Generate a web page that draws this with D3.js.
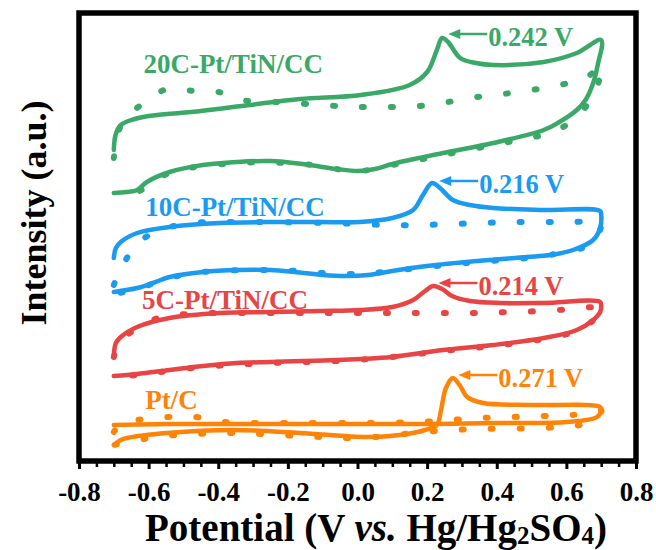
<!DOCTYPE html>
<html><head><meta charset="utf-8">
<script src="https://cdn.jsdelivr.net/npm/d3@7/dist/d3.min.js"></script>
<style>
body{margin:0;background:#fff;}
text{font-family:"Liberation Serif","Times New Roman",serif;font-weight:bold;}
</style>
</head><body>
<svg id="chart" width="656" height="550"></svg>
<script>
// ---------- data ----------
const xMajorTicks = [-0.8,-0.6,-0.4,-0.2,0.0,0.2,0.4,0.6,0.8];
const xTickLabels = ["-0.8","-0.6","-0.4","-0.2","0.0","0.2","0.4","0.6","0.8"];
const xMinorTicks = [-0.75,-0.7,-0.65,-0.55,-0.5,-0.45,-0.35,-0.3,-0.25,-0.15,-0.1,-0.05,0.05,0.1,0.15,0.25,0.3,0.35,0.45,0.5,0.55,0.65,0.7,0.75];
const seriesNames = ["20C-Pt/TiN/CC","10C-Pt/TiN/CC","5C-Pt/TiN/CC","Pt/C"];
const seriesColors = ["#3aa968","#1a9bf0","#e84444","#ff8306"];
const peakLabels = ["0.242 V","0.216 V","0.214 V","0.271 V"];
const peakPotentials = [0.242,0.216,0.214,0.271];
const arrowHeights = [427,280,178,86];

// potential (V), intensity (a.u.) along the full scan
const green_solid = [[-0.70,311],[-0.695,326],[-0.68,336],[-0.64,342],[-0.60,345],[-0.45,350],[-0.31,356],[-0.165,362],[0.01,366],[0.15,376],[0.20,389],[0.228,411],[0.243,423],[0.26,419],[0.295,403],[0.34,398],[0.39,396],[0.535,399],[0.63,408],[0.70,421],
  [0.69,396],[0.677,378],[0.655,361],[0.63,351],[0.58,339],[0.535,331],[0.39,318],[0.246,308],[0.10,297],[0.05,292],[0.0,290],[-0.06,292],[-0.157,297],[-0.25,300],[-0.346,299],[-0.444,296],[-0.54,289],[-0.605,279],[-0.633,271],[-0.665,269],[-0.70,268]];
const green_dotted = [[-0.70,303],[-0.685,331],[-0.66,346],[-0.63,354],[-0.547,372],[-0.467,370],[-0.40,369],[-0.315,360],[-0.228,359],[-0.144,357],[-0.058,355],[0.007,354],[0.093,354],[0.18,355],[0.26,359],[0.343,364],[0.418,367],[0.50,371],[0.582,376],[0.659,384],[0.70,395],
  [0.69,376],[0.674,364],[0.63,344],[0.562,329],[0.476,322],[0.39,316],[0.246,306],[0.10,296],[0.0,290],[-0.157,297],[-0.346,298],[-0.54,288],[-0.633,269],[-0.70,265]];
const blue_solid = [[-0.70,203],[-0.694,213],[-0.68,219],[-0.633,228],[-0.54,234],[-0.395,238],[-0.25,239],[-0.108,239],[0.007,239],[0.10,243],[0.16,251],[0.188,266],[0.214,278],[0.237,273],[0.274,261],[0.323,256],[0.39,253],[0.535,251],[0.697,250],
  [0.70,246],[0.697,233],[0.677,221],[0.619,211],[0.553,206],[0.487,204],[0.343,200],[0.20,195],[0.10,190],[0.03,186],[-0.03,185],[-0.10,186],[-0.18,189],[-0.25,191],[-0.346,191],[-0.444,189],[-0.54,184],[-0.588,178],[-0.633,173],[-0.70,169]];
const blue_dotted = [[-0.70,176],[-0.677,194],[-0.63,218],[-0.567,231],[-0.473,238],[-0.389,239],[-0.25,239],[-0.08,238],[0.093,236],[0.18,236],[0.266,237],[0.358,238],[0.44,239],[0.53,239],[0.616,239],[0.697,239],[0.70,236],
  [0.688,224],[0.668,216],[0.582,208],[0.487,203],[0.343,199],[0.20,194],[0.10,190],[0.0,187],[-0.10,188],[-0.174,190],[-0.25,191],[-0.444,189],[-0.54,183],[-0.633,172],[-0.70,167]];
const red_solid = [[-0.70,106],[-0.694,118],[-0.68,124],[-0.633,134],[-0.54,143],[-0.395,148],[-0.25,149],[-0.108,150],[0.007,151],[0.10,154],[0.16,161],[0.194,170],[0.217,175],[0.243,172],[0.272,165],[0.323,160],[0.409,158],[0.535,158],[0.697,159],
  [0.70,155],[0.697,149],[0.677,141],[0.63,131],[0.535,123],[0.39,116],[0.246,111],[0.10,104],[0.007,102],[-0.058,101],[-0.157,100],[-0.25,99],[-0.346,98],[-0.444,95],[-0.54,91],[-0.633,87],[-0.70,85]];
const red_dotted = [[-0.70,104],[-0.685,118],[-0.65,129],[-0.573,143],[-0.49,147],[-0.31,148],[-0.108,148],[0.093,148],[0.18,148],[0.266,148],[0.352,148],[0.44,149],[0.53,150],[0.616,152],[0.69,154],[0.70,153],
  [0.69,145],[0.668,138],[0.63,130],[0.535,122],[0.39,115],[0.246,110],[0.10,104],[-0.058,100],[-0.25,98],[-0.444,94],[-0.633,86],[-0.70,84]];
const orange_solid = [[-0.70,16],[-0.68,21],[-0.662,23],[-0.547,28],[-0.358,31],[-0.165,28],[0.027,24],[0.122,26],[0.194,31],[0.228,36],[0.24,51],[0.254,73],[0.274,83],[0.295,75],[0.315,64],[0.361,58],[0.504,56],[0.697,54],
  [0.70,51],[0.688,44],[0.602,39],[0.409,38],[0.217,37],[0.027,37],[-0.165,37],[-0.358,37],[-0.547,37],[-0.70,36]];
const orange_dotted = [[-0.70,29],[-0.68,37],[-0.633,41],[-0.547,44],[-0.461,44],[-0.381,39],[-0.194,38],[0.007,38],[0.18,39],[0.266,41],[0.352,43],[0.44,44],[0.53,45],[0.616,46],[0.70,51],
  [0.69,43],[0.64,36],[0.524,33],[0.352,32],[0.272,31],[0.188,29],[0.007,23],[-0.165,25],[-0.358,28],[-0.519,26],[-0.596,23],[-0.70,16]];

const solidCurves = [green_solid, blue_solid, red_solid, orange_solid];
const dottedCurves = [green_dotted, blue_dotted, red_dotted, orange_dotted];
// label anchors (V, a.u.)
const labelPos = [[-0.615,388],[-0.61,245],[-0.619,152],[-0.61,52]];

// ---------- chart ----------
const svg = d3.select("#chart");
const L=79, R=636, T=13, B=461;
const x = d3.scaleLinear().domain([-0.8,0.8]).range([L,R]);
const y = d3.scaleLinear().domain([0,448]).range([B,T]);
const line = d3.line().x(d=>x(d[0])).y(d=>y(d[1])).curve(d3.curveCatmullRom.alpha(0.5));

const g = svg.append("g");
dottedCurves.forEach((c,i)=>{
  g.append("path").attr("d",line(c)).attr("fill","none").attr("stroke",seriesColors[i])
   .attr("stroke-width",6).attr("stroke-linecap","round").attr("stroke-dasharray","2 27");
});
solidCurves.forEach((c,i)=>{
  g.append("path").attr("d",line(c)).attr("fill","none").attr("stroke",seriesColors[i])
   .attr("stroke-width",4.5).attr("stroke-linejoin","round").attr("stroke-linecap","round");
});

// series labels
seriesNames.forEach((n,i)=>{
  svg.append("text").attr("x",x(labelPos[i][0])).attr("y",y(labelPos[i][1]))
    .attr("fill",seriesColors[i]).attr("font-size",27).text(n);
});

// peak annotations
peakLabels.forEach((t,i)=>{
  const hx = x(peakPotentials[i])+6.5, ay = y(arrowHeights[i]), tx = hx+39;
  svg.append("line").attr("x1",hx+8).attr("x2",tx).attr("y1",ay).attr("y2",ay)
    .attr("stroke",seriesColors[i]).attr("stroke-width",2.5);
  svg.append("path").attr("d",`M${hx},${ay}L${hx+12},${ay-5}L${hx+12},${ay+5}Z`).attr("fill",seriesColors[i]);
  svg.append("text").attr("x",tx+1).attr("y",ay+12).attr("fill",seriesColors[i]).attr("font-size",26.5).text(t);
});

// axes
const minor = svg.append("g").attr("transform",`translate(0,${B})`)
  .call(d3.axisBottom(x).tickValues(xMinorTicks).tickSize(6).tickFormat(""));
minor.select(".domain").remove();
minor.selectAll("line").attr("stroke-width",2.5);
const major = svg.append("g").attr("transform",`translate(0,${B})`)
  .call(d3.axisBottom(x).tickValues(xMajorTicks).tickSize(8).tickFormat((d,i)=>xTickLabels[i]));
major.select(".domain").remove();
major.selectAll("line").attr("stroke-width",3);
major.selectAll("text").attr("dy",null).attr("y",39.5).attr("font-size",27).attr("fill","#000")
  .style("font-family",'"Liberation Serif",serif').style("font-weight","bold");

// frame
svg.append("rect").attr("x",L).attr("y",T).attr("width",R-L).attr("height",B-T)
  .attr("fill","none").attr("stroke","#000").attr("stroke-width",5.5);

// axis titles
const xt = svg.append("text").attr("x",376).attr("y",541).attr("text-anchor","middle").attr("font-size",39);
xt.append("tspan").text("Potential (V ");
xt.append("tspan").attr("font-style","italic").text("vs.");
xt.append("tspan").text(" Hg/Hg");
xt.append("tspan").attr("font-size",25).attr("dy",3).text("2");
xt.append("tspan").attr("dy",-3).text("SO");
xt.append("tspan").attr("font-size",25).attr("dy",3).text("4");
xt.append("tspan").attr("dy",-3).text(")");

svg.append("text").attr("transform","translate(46,213) rotate(-90)").attr("text-anchor","middle")
  .attr("font-size",36).text("Intensity (a.u.)");
</script>
</body></html>
